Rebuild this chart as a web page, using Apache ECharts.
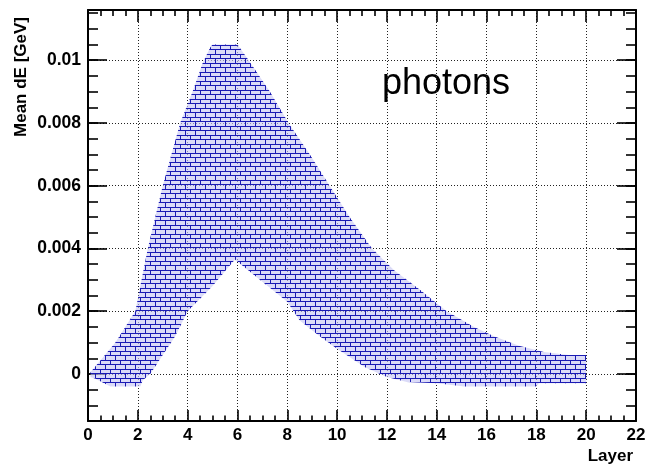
<!DOCTYPE html>
<html><head><meta charset="utf-8">
<script src="https://cdn.jsdelivr.net/npm/echarts@6/dist/echarts.min.js"></script>
<style>html,body{margin:0;padding:0;background:#fff}#c{width:646px;height:464px}</style>
</head><body><div id="c"></div>
<script>
// Upper edge of the band (Layer, Mean dE [GeV])
const upperX = [0.1, 1.1, 1.9, 2.4, 3.0, 3.7, 4.2, 4.6, 4.9, 5.0, 6.0, 6.45, 7.3, 8.05, 8.9, 9.7, 10.5, 11.4, 12.3, 13.3, 14.4, 15.5, 16.3, 17.3, 18.3, 19.3, 20.0];
const upperY = [0.00005, 0.001, 0.002, 0.004, 0.006, 0.008, 0.009, 0.0099, 0.0104, 0.0105, 0.0105, 0.01, 0.009, 0.008, 0.0070, 0.006, 0.005, 0.004, 0.0033, 0.0027, 0.002, 0.0015, 0.0012, 0.0009, 0.0007, 0.0006, 0.0006];
// Lower edge of the band
const lowerX = [0.1, 0.3, 0.9, 2.1, 2.2, 2.5, 3.0, 3.5, 4.0, 5.0, 5.9, 6.9, 8.0, 8.5, 9.3, 10.0, 11.1, 12.0, 12.8, 14.0, 15.1, 18.0, 18.1, 20.0];
const lowerY = [-0.0001, -0.00015, -0.0004, -0.0004, -0.0002, 0.0, 0.0006, 0.0012, 0.002, 0.0028, 0.00365, 0.003, 0.0023, 0.0017, 0.0012, 0.0008, 0.00022, -0.0001, -0.00026, -0.0003, -0.0004, -0.0004, -0.0003, -0.0003];

const yMajor = [0, 0.002, 0.004, 0.006, 0.008, 0.01];
const yTickLabels = ['0', '0.002', '0.004', '0.006', '0.008', '0.01'];
const xTickLabels = ['0','2','4','6','8','10','12','14','16','18','20','22'];
const labelText = 'photons';
const xTitle = 'Layer';
const yTitle = 'Mean dE [GeV]';

function brickPattern() {
  const c = document.createElement('canvas');
  c.width = 10; c.height = 9;
  const g = c.getContext('2d');
  g.fillStyle = 'rgba(200,200,245,0.65)';
  g.fillRect(0, 0, 10, 9);
  g.fillStyle = '#1a1ab4';
  g.fillRect(0, 0, 10, 1);
  g.fillRect(0, 4, 10, 1);
  g.fillRect(0, 1, 1, 3);
  g.fillRect(5, 5, 1, 4);
  return c;
}
const pattern = { image: brickPattern(), repeat: 'repeat' };

const FONT = "'Liberation Sans', Arial, Helvetica, sans-serif";
const yMin = -0.0015, yMax = 0.0116;

const chart = echarts.init(document.getElementById('c'), null, { renderer: 'canvas' });
const axisLineStyle = { color: '#000', width: 2 };
const tickStyle = { color: '#000', width: 1.6 };

chart.setOption({
  animation: false,
  backgroundColor: '#fff',
  grid: { left: 88, right: 10, top: 10, bottom: 43, containLabel: false, outerBoundsMode: 'none' },
  xAxis: [
    {
      type: 'value', position: 'bottom', min: 0, max: 22, interval: 2,
      axisLine: { show: true, lineStyle: axisLineStyle, onZero: false },
      axisTick: { show: true, inside: true, length: 11, lineStyle: tickStyle },
      minorTick: { show: true, splitNumber: 4, length: 5.5, lineStyle: tickStyle },
      axisLabel: { show: true, margin: 6, color: '#000', fontFamily: FONT, fontWeight: 'bold', fontSize: 17,
        formatter: (v) => xTickLabels[Math.round(v / 2)] },
      splitLine: { show: true, lineStyle: { color: '#222', width: 1, type: [1, 2] } }
    },
    {
      type: 'value', position: 'top', min: 0, max: 22, interval: 2, offset: 0,
      axisLine: { show: true, lineStyle: axisLineStyle, onZero: false },
      axisTick: { show: true, inside: true, length: 12, lineStyle: tickStyle },
      minorTick: { show: true, splitNumber: 4, length: 6, lineStyle: tickStyle },
      axisLabel: { show: false },
      splitLine: { show: false }
    }
  ],
  yAxis: [
    {
      type: 'value', position: 'left', min: yMin, max: yMax, interval: 0.0005, offset: 0,
      axisLine: { show: true, lineStyle: axisLineStyle, onZero: false },
      axisTick: { show: true, inside: true, length: 10, lineStyle: tickStyle },
      axisLabel: { show: false },
      splitLine: { show: false }
    },
    {
      type: 'value', position: 'left', min: yMin, max: yMax, offset: 0,
      axisLine: { show: false, onZero: false },
      axisTick: { show: true, inside: true, length: 19, customValues: yMajor, lineStyle: tickStyle },
      axisLabel: { show: true, margin: 7, customValues: yMajor, color: '#000', fontFamily: FONT, fontWeight: 'bold', fontSize: 17.5,
        formatter: (v) => { const i = yMajor.findIndex(m => Math.abs(m - v) < 1e-9); return i >= 0 ? yTickLabels[i] : ''; } },
      splitLine: { show: true, lineStyle: { color: '#222', width: 1, type: [1, 2] } }
    },
    {
      type: 'value', position: 'right', min: yMin, max: yMax, interval: 0.0005, offset: 0,
      axisLine: { show: true, lineStyle: axisLineStyle, onZero: false },
      axisTick: { show: true, inside: true, length: 10, lineStyle: tickStyle },
      axisLabel: { show: false },
      splitLine: { show: false }
    },
    {
      type: 'value', position: 'right', min: yMin, max: yMax, offset: 0,
      axisLine: { show: false, onZero: false },
      axisTick: { show: true, inside: true, length: 19, customValues: yMajor, lineStyle: tickStyle },
      axisLabel: { show: false },
      splitLine: { show: false }
    }
  ],
  series: [
    {
      type: 'custom', coordinateSystem: 'cartesian2d', xAxisIndex: 0, yAxisIndex: 0,
      clip: true, silent: true,
      data: [[upperX[0], upperY[0]]],
      renderItem: function (params, api) {
        const pts = [];
        for (let i = 0; i < upperX.length; i++) pts.push(api.coord([upperX[i], upperY[i]]));
        for (let i = lowerX.length - 1; i >= 0; i--) pts.push(api.coord([lowerX[i], lowerY[i]]));
        return { type: 'polygon', shape: { points: pts }, style: { fill: pattern, stroke: null } };
      }
    }
  ],
  graphic: [
    { type: 'text', x: 382, y: 84, style: { text: labelText, fill: '#000', font: "normal 36px " + FONT, textAlign: 'left', textVerticalAlign: 'middle' } },
    { type: 'text', x: 633, y: 456, style: { text: xTitle, fill: '#000', font: "bold 17px " + FONT, textAlign: 'right', textVerticalAlign: 'middle' } },
    { type: 'text', x: 21, y: 17, rotation: Math.PI / 2, style: { text: yTitle, fill: '#000', font: "bold 17px " + FONT, textAlign: 'right', textVerticalAlign: 'middle' } }
  ]
});
</script>
</body></html>
